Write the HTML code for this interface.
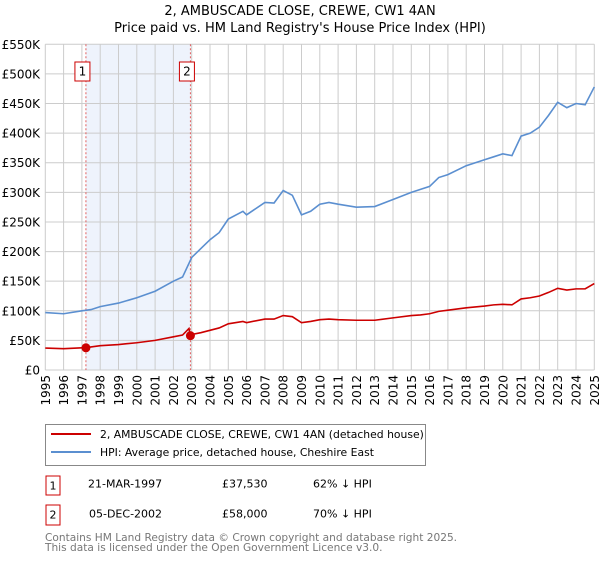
<!DOCTYPE html>
<html><head><meta charset="utf-8"><style>
body{margin:0;background:#fff;width:600px;height:560px;overflow:hidden;font-family:"DejaVu Sans","Liberation Sans",sans-serif;}
svg text{font-family:"DejaVu Sans","Liberation Sans",sans-serif;}
</style></head><body>
<svg id="chart" width="600" height="560" xmlns="http://www.w3.org/2000/svg">
<text x="300" y="15" text-anchor="middle" font-size="13" fill="#000">2, AMBUSCADE CLOSE, CREWE, CW1 4AN</text>
<text x="300" y="32" text-anchor="middle" font-size="13" fill="#000">Price paid vs. HM Land Registry's House Price Index (HPI)</text>
<g id="grid"></g><g id="axes"></g><g id="series"></g>
<rect x="45.5" y="424.5" width="380" height="41" fill="#fff" stroke="#888"/>
<line x1="51" y1="434" x2="91" y2="434" stroke="#cc0000" stroke-width="2"/>
<text x="100" y="438" font-size="10.8">2, AMBUSCADE CLOSE, CREWE, CW1 4AN (detached house)</text>
<line x1="51" y1="452" x2="91" y2="452" stroke="#5b8fd0" stroke-width="2"/>
<text x="100" y="456" font-size="10.8">HPI: Average price, detached house, Cheshire East</text>
<rect x="46" y="476" width="14" height="19" fill="#fff" stroke="#cc0000"/>
<text x="53" y="489.5" font-size="11" text-anchor="middle">1</text>
<text x="88" y="487.5" font-size="11">21-MAR-1997</text>
<text x="222" y="487.5" font-size="11">£37,530</text>
<text x="313" y="487.5" font-size="11">62% ↓ HPI</text>
<rect x="46" y="505" width="14" height="20" fill="#fff" stroke="#cc0000"/>
<text x="53" y="518.5" font-size="11" text-anchor="middle">2</text>
<text x="89" y="517.5" font-size="11">05-DEC-2002</text>
<text x="222" y="517.5" font-size="11">£58,000</text>
<text x="313" y="517.5" font-size="11">70% ↓ HPI</text>
<text x="45" y="541" font-size="10.6" fill="#777">Contains HM Land Registry data © Crown copyright and database right 2025.</text>
<text x="45" y="551" font-size="10.6" fill="#777">This data is licensed under the Open Government Licence v3.0.</text>
</svg>
<script>
const hpiYears=[1995,1996,1997,1997.5,1998,1999,2000,2001,2002,2002.5,2003,2003.5,2004,2004.5,2005,2005.8,2006,2007,2007.5,2008,2008.5,2009,2009.5,2010,2010.5,2011,2012,2013,2014,2015,2015.5,2016,2016.5,2017,2018,2019,2019.5,2020,2020.5,2021,2021.5,2022,2022.5,2023,2023.5,2024,2024.5,2025];
const hpiValues=[97,95,100,102,107,113,122,133,150,157,190,205,220,232,255,268,262,283,282,303,295,262,268,280,283,280,275,276,288,300,305,310,325,330,345,355,360,365,362,395,400,410,430,452,443,450,448,478];
const redYears=[1995,1996,1997,1997.22,1997.5,1998,1999,2000,2001,2002,2002.5,2002.85,2002.93,2003,2003.5,2004,2004.5,2005,2005.8,2006,2007,2007.5,2008,2008.5,2009,2009.5,2010,2010.5,2011,2012,2013,2014,2015,2015.5,2016,2016.5,2017,2018,2019,2019.5,2020,2020.5,2021,2021.5,2022,2022.5,2023,2023.5,2024,2024.5,2025];
const redValues=[37,36,37.5,37.5,39,41,43,46,50,56,59,70,58,60,63,67,71,78,82,80,86,86,92,90,80,82,85,86,85,84,84,88,92,93,95,99,101,105,108,110,111,110,120,122,125,131,138,135,137,137,146];
const saleYears=[1997.22,2002.93];
const saleValues=[37.53,58];
const yTicks=[0,50,100,150,200,250,300,350,400,450,500,550];
const xTicks=[1995,1996,1997,1998,1999,2000,2001,2002,2003,2004,2005,2006,2007,2008,2009,2010,2011,2012,2013,2014,2015,2016,2017,2018,2019,2020,2021,2022,2023,2024,2025];
const NS='http://www.w3.org/2000/svg';
const L=45.3,R=594.3,T=44.3,B=370;
const xs=v=>L+(v-1995)/30*(R-L);
const ys=v=>B-v/550*(B-T);
function mk(tag,attrs,parent){const e=document.createElementNS(NS,tag);for(const k in attrs)e.setAttribute(k,attrs[k]);parent.appendChild(e);return e;}
const grid=document.getElementById('grid'),axes=document.getElementById('axes'),ser=document.getElementById('series');
const band=mk('rect',{x:xs(saleYears[0]),y:T,width:xs(saleYears[1])-xs(saleYears[0]),height:B-T,fill:'#eef3fc'},grid);


yTicks.forEach(v=>{
 const l=mk('line',{x1:L,x2:R,y1:ys(v),y2:ys(v),stroke:'#cccccc','stroke-width':1},grid);
 
 
 const t=mk('text',{x:40,y:ys(v)+4.5,'text-anchor':'end','font-size':12},axes);
 t.textContent=v===0?'£0':'£'+v+'K';
 
 
});
xTicks.forEach(v=>{
 const l=mk('line',{x1:xs(v),x2:xs(v),y1:T,y2:B,stroke:'#cccccc','stroke-width':1},grid);
 
 
 const t=mk('text',{x:0,y:0,'font-size':12,'text-anchor':'end',transform:'translate('+(xs(v)+4.5)+','+(B+5)+') rotate(-90)'},axes);
 t.textContent=v;
 
 
});
saleYears.forEach((y,i)=>{
 const l=mk('line',{x1:xs(y),x2:xs(y),y1:T,y2:B,stroke:'#e06060','stroke-width':1,'stroke-dasharray':'2,2'},grid);
 
 
 mk('rect',{x:xs(y)-11,y:62,width:15,height:19,fill:'#fff',stroke:'#cc0000'},grid);
 const t=mk('text',{x:xs(y)-3.5,y:75.5,'text-anchor':'middle','font-size':12},grid);
 t.textContent=i+1;
 
 
});
const hp=mk('polyline',{points:hpiYears.map((y,i)=>xs(y)+','+ys(hpiValues[i])).join(' '),fill:'none',stroke:'#5b8fd0','stroke-width':1.6},ser);


const rp=mk('polyline',{points:redYears.map((y,i)=>xs(y)+','+ys(redValues[i])).join(' '),fill:'none',stroke:'#cc0000','stroke-width':1.6},ser);


saleYears.forEach((y,i)=>{
 const c=mk('circle',{cx:xs(y),cy:ys(saleValues[i]),r:4.5,fill:'#cc0000'},ser);
 
 
});
</script>
</body></html>
